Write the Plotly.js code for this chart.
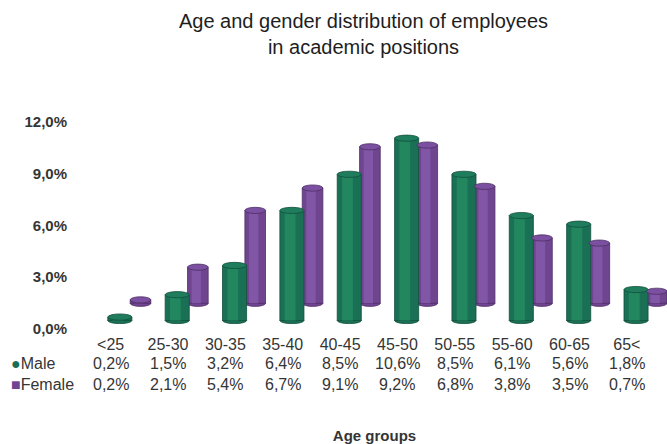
<!DOCTYPE html>
<html>
<head>
<meta charset="utf-8">
<script src="https://cdn.plot.ly/plotly-3.0.1.min.js"></script>
<style>
  html, body { margin: 0; padding: 0; background: #ffffff; }
  #chart { width: 667px; height: 444px; }
</style>
</head>
<body>
<div id="chart"></div>
<script>
// Age groups and shares of employees (percent)
const ageGroups = ['<25', '25-30', '30-35', '35-40', '40-45', '45-50', '50-55', '55-60', '60-65', '65<'];
const maleShare = [0.2, 1.5, 3.2, 6.4, 8.5, 10.6, 8.5, 6.1, 5.6, 1.8];
const femaleShare = [0.2, 2.1, 5.4, 6.7, 9.1, 9.2, 6.8, 3.8, 3.5, 0.7];
const yTicks = [0, 3, 6, 9, 12];

const GREEN = '#1a7055';
const GREEN_LIGHT = '#22865f';
const GREEN_DARK = '#124f3c';
const GREEN_CAP = '#1f7d5e';
const PURPLE = '#704590';
const PURPLE_LIGHT = '#8156a6';
const PURPLE_DARK = '#4e2f66';
const PURPLE_CAP = '#7c50a0';
const TEXT = '#353535';
const FONT = 'Liberation Sans, Arial, sans-serif';

// Pseudo-3D layout: the female row stands behind the male row,
// so it is lifted by a depth offset and shifted to the right.
const DEPTH = 1.0;
const maleOffset = -0.05, maleWidth = 0.42;
const femaleOffset = 0.34, femaleWidth = 0.36;
const capHalf = 0.18;   // half height of the elliptical caps, in axis units

const idx = ageGroups.map((_, i) => i);
const fmt = v => v.toFixed(1).replace('.', ',') + '%';

function cylinder(values, base, off, w, body, light, edge) {
  const bases = values.map(() => base);
  return [
    { type: 'bar', x: idx, y: values, base: bases, offset: off, width: w,
      marker: { color: body, line: { color: edge, width: 0.8 } },
      hoverinfo: 'skip', showlegend: false },
    // lighter band for the rounded look
    { type: 'bar', x: idx, y: values, base: bases, offset: off + w * 0.2, width: w * 0.45,
      marker: { color: light, line: { width: 0 } },
      hoverinfo: 'skip', showlegend: false }
  ];
}

const traces = [].concat(
  cylinder(femaleShare, DEPTH, femaleOffset, femaleWidth, PURPLE, PURPLE_LIGHT, PURPLE_DARK),
  cylinder(maleShare, 0, maleOffset, maleWidth, GREEN, GREEN_LIGHT, GREEN_DARK)
);

// Elliptical bottoms (behind the bars) and tops (over the bars)
const shapes = [];
function caps(values, base, off, w, fill, edge, capFill) {
  values.forEach((v, i) => {
    shapes.push({ type: 'circle', xref: 'x', yref: 'y', layer: 'below',
      x0: i + off, x1: i + off + w, y0: base - capHalf, y1: base + capHalf,
      fillcolor: fill, line: { color: edge, width: 0.8 } });
  });
  values.forEach((v, i) => {
    const top = base + v;
    shapes.push({ type: 'circle', xref: 'x', yref: 'y', layer: 'above',
      x0: i + off, x1: i + off + w, y0: top - capHalf, y1: top + capHalf,
      fillcolor: capFill, line: { color: edge, width: 0.8 } });
  });
}
caps(femaleShare, DEPTH, femaleOffset, femaleWidth, PURPLE, PURPLE_DARK, PURPLE_CAP);
caps(maleShare, 0, maleOffset, maleWidth, GREEN, GREEN_DARK, GREEN_CAP);

// Data table under the plot
const rowFont = { family: FONT, size: 16, color: TEXT };
const annotations = [];
const rows = [
  { label: "<span style='color:" + GREEN + "'>●</span>Male", values: maleShare, y: -0.129 },
  { label: "<span style='color:" + PURPLE + "'>■</span>Female", values: femaleShare, y: -0.223 }
];
rows.forEach(r => {
  annotations.push({ xref: 'paper', yref: 'paper', x: -0.125, y: r.y, xanchor: 'left', yanchor: 'middle',
    text: r.label, showarrow: false, font: rowFont });
  r.values.forEach((v, i) => {
    annotations.push({ xref: 'x', yref: 'paper', x: i, y: r.y, xanchor: 'center', yanchor: 'middle',
      text: fmt(v), showarrow: false, font: rowFont });
  });
});

const layout = {
  width: 667, height: 444,
  margin: { l: 82, r: 0, t: 100, b: 111 },
  paper_bgcolor: '#ffffff', plot_bgcolor: '#ffffff',
  barmode: 'overlay',
  title: {
    text: 'Age and gender distribution of employees<br>in academic positions',
    font: { family: FONT, size: 20, color: '#1e1e1e' },
    x: 0.545, xanchor: 'center', xref: 'container',
    y: 0.937, yanchor: 'middle', yref: 'container'
  },
  xaxis: {
    type: 'linear', range: [-0.5, 9.7],
    tickmode: 'array', tickvals: idx, ticktext: ageGroups,
    showgrid: false, zeroline: false, showline: false, ticks: '',
    tickfont: rowFont,
    title: { text: 'Age groups', standoff: 78,
      font: { family: FONT, size: 15, color: TEXT, weight: 'bold' } }
  },
  yaxis: {
    range: [-0.727, 12.82],
    tickmode: 'array', tickvals: yTicks, ticktext: yTicks.map(fmt),
    showgrid: false, zeroline: false, showline: false, ticks: '',
    ticklabelshift: 8, ticklabelstandoff: 14,
    tickfont: { family: FONT, size: 15, color: TEXT, weight: 'bold' }
  },
  shapes: shapes,
  annotations: annotations
};

Plotly.newPlot('chart', traces, layout, { staticPlot: true, displayModeBar: false });
</script>
</body>
</html>
